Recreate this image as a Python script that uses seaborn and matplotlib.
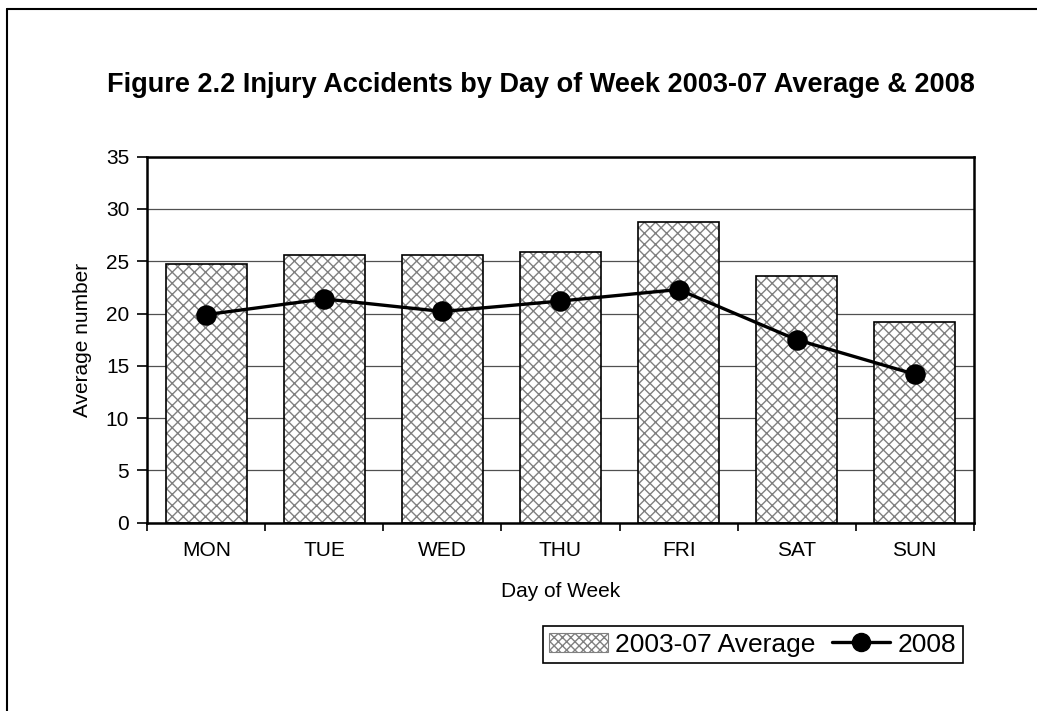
import numpy as np
import pandas as pd
import matplotlib
matplotlib.use("Agg")
import matplotlib.pyplot as plt
import seaborn as sns
from matplotlib.patches import Patch
from matplotlib.lines import Line2D

days = ["MON", "TUE", "WED", "THU", "FRI", "SAT", "SUN"]
avg_2003_07 = [24.7, 25.6, 25.6, 25.9, 28.8, 23.6, 19.2]
values_2008 = [19.9, 21.4, 20.2, 21.2, 22.3, 17.5, 14.2]
yticks = [0, 5, 10, 15, 20, 25, 30, 35]
title = "Figure 2.2 Injury Accidents by Day of Week 2003-07 Average & 2008"
series_labels = ["2003-07 Average", "2008"]

sns.set_theme(style="white")
plt.rcParams['font.family'] = ['Liberation Sans', 'DejaVu Sans']
plt.rcParams['hatch.linewidth'] = 1.0
for k in ["text.color", "axes.labelcolor", "xtick.color", "ytick.color"]:
    plt.rcParams[k] = "black"

df = pd.DataFrame({"day": days, "avg": avg_2003_07, "y2008": values_2008})

fig = plt.figure(figsize=(10.37, 7.11), dpi=100)
ax = fig.add_axes([0.142, 0.2648, 0.797, 0.5148])

# hatched fill (grey hatch, no edge)
sns.barplot(data=df, x="day", y="avg", color="white", width=0.69, hatch="xxx",
            edgecolor="#808080", linewidth=0, ax=ax, zorder=2)
# black outlines
sns.barplot(data=df, x="day", y="avg", color="black", fill=False, width=0.69,
            linewidth=1.2, ax=ax, zorder=3)
# 2008 line
sns.pointplot(data=df, x="day", y="y2008", color="black", markers="o",
              linestyles="-", markersize=13, linewidth=2.4, errorbar=None,
              ax=ax, zorder=5)

ax.set_xlim(-0.5, 6.5)
ax.set_ylim(0, 35)
ax.set_yticks(yticks)
ax.set_xticks(range(len(days)))
ax.set_xticklabels(days)
ax.set_xticks(np.arange(-0.5, len(days), 1.0), minor=True)
ax.tick_params(axis="x", which="major", length=0, labelsize=15, pad=13)
ax.tick_params(axis="x", which="minor", length=6, width=1.2, color="black",
               direction="out", bottom=True)
ax.tick_params(axis="y", which="major", length=7, width=1.2, color="black",
               direction="out", left=True, labelsize=15, pad=6)

ax.yaxis.grid(True, color="#505050", linewidth=0.9)
ax.xaxis.grid(False)
ax.set_axisbelow(True)
for s in ax.spines.values():
    s.set_visible(True)
    s.set_color("black")
    s.set_linewidth(1.8)

ax.set_xlabel("Day of Week", fontsize=15, va="center")
ax.xaxis.set_label_coords(0.5, -0.1866)
ax.set_ylabel("Average number", fontsize=15, va="center")
ax.yaxis.set_label_coords(-0.078, 0.5)

fig.text(0.5217, 1 - 92 / 711, title, ha="center", va="baseline",
         fontsize=19.5, fontweight="bold")

handles = [
    Patch(facecolor="white", edgecolor="#808080", hatch="xxxx", linewidth=0.8),
    Line2D([], [], color="black", marker="o", markersize=13, linewidth=2.4),
]
leg = fig.legend(handles, series_labels, loc="center",
                 bbox_to_anchor=(0.726, 0.0935), ncol=2, frameon=True,
                 fontsize=19, edgecolor="black", fancybox=False, framealpha=1,
                 handlelength=2.2, columnspacing=0.6, handletextpad=0.3,
                 borderpad=0.25)
leg.get_frame().set_linewidth(1.2)

x0 = 7 / 1037
ytop = 1 - 9 / 711
fig.add_artist(Line2D([x0, x0], [0, ytop], transform=fig.transFigure,
                      color="black", linewidth=1.5))
fig.add_artist(Line2D([x0, 1], [ytop, ytop], transform=fig.transFigure,
                      color="black", linewidth=1.5))

fig.savefig("out.png", dpi=100)
